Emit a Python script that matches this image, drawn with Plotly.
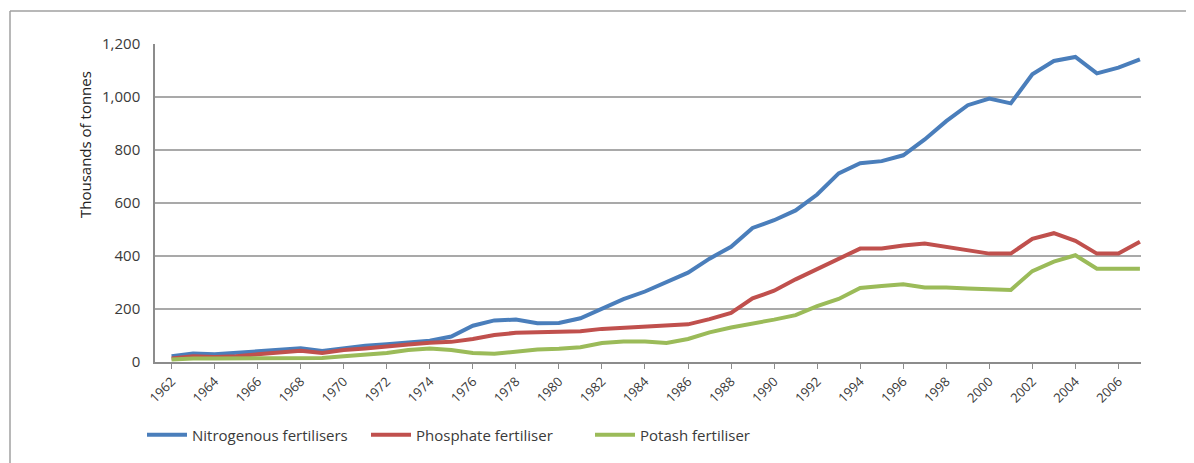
import plotly.graph_objects as go

years = list(range(1962, 2008))

nitrogenous = [22, 32, 29, 34, 42, 47, 52, 42, 53, 61, 67, 73, 80, 96, 137,
               157, 160, 146, 147, 165, 202, 237, 266, 300, 337, 390, 435, 506,
               535, 572, 632, 712, 750, 758, 780, 840, 909, 969, 994, 976,
               1086, 1136, 1151, 1089, 1111, 1142]
phosphate = [13, 22, 19, 22, 29, 34, 42, 34, 45, 51, 57, 66, 73, 76, 87,
             102, 110, 112, 115, 116, 125, 130, 135, 137, 142, 162, 185, 240,
             269, 312, 350, 387, 428, 428, 440, 447, 435, 421, 409, 409,
             465, 486, 457, 409, 409, 454]
potash = [9, 13, 13, 14, 14, 15, 15, 15, 22, 28, 34, 45, 51, 45, 34,
          31, 40, 47, 50, 56, 72, 77, 77, 72, 87, 112, 130, 144, 160, 177,
          211, 238, 279, 287, 293, 281, 281, 277, 274, 272, 343, 379, 403,
          352, 352, 352]

series_names = ["Nitrogenous fertilisers", "Phosphate fertiliser", "Potash fertiliser"]
series_colors = ["#4A7EBB", "#C0504D", "#9BBB59"]
y_tick_vals = [0, 200, 400, 600, 800, 1000, 1200]
y_tick_text = ["0", "200", "400", "600", "800", "1,000", "1,200"]
x_tick_vals = list(range(1962, 2007, 2))
y_title = "Thousands of tonnes"

FONT = "Open Sans"
TXT = "#3a3a3a"

fig = go.Figure()
for name, vals, col in zip(series_names, [nitrogenous, phosphate, potash], series_colors):
    fig.add_trace(go.Scatter(x=years, y=vals, mode="lines", name=name,
                             line=dict(color=col, width=4)))

# page has an 8px body margin, so figure coords = screen coords - 8
OFF = 8
W, H = 1194, 463
L, T = 155 - OFF, 44 - OFF
pw, ph = 986, 318
R = W - L - pw
B = H - T - ph

def px(x):
    return (x - OFF - L) / pw

def py(y):
    return (T + ph - (y - OFF)) / ph

fig.update_layout(
    width=W, height=H,
    margin=dict(l=L, r=R, t=T, b=B),
    paper_bgcolor="white", plot_bgcolor="white",
    font=dict(family=FONT, size=13, color=TXT),
    showlegend=True,
    legend=dict(orientation="h", x=px(142), xanchor="left", y=py(435), yanchor="middle",
                font=dict(family=FONT, size=15, color=TXT), itemwidth=40,
                entrywidth=169, entrywidthmode="pixels",
                bgcolor="rgba(0,0,0,0)"),
    xaxis=dict(range=[1961.23, 2007.05], tickmode="array", tickvals=x_tick_vals,
               ticktext=[str(v) for v in x_tick_vals], tickangle=-45,
               showgrid=False, zeroline=False, showline=True, linecolor="#8c8c8c",
               linewidth=1.5, ticks="outside", ticklen=5, tickcolor="#8c8c8c",
               tickfont=dict(family=FONT, size=13, color=TXT)),
    yaxis=dict(range=[0, 1200], tickmode="array", tickvals=y_tick_vals, ticktext=y_tick_text,
               showgrid=True, gridcolor="#a9a9a9", gridwidth=1.5, zeroline=False,
               showline=True, linecolor="#8c8c8c", linewidth=1.5, ticks="",
               tickfont=dict(family=FONT, size=15, color=TXT), ticklabelstandoff=10),
    annotations=[dict(text=y_title, xref="paper", yref="paper", x=px(85), y=py(145),
                      textangle=-90, showarrow=False, xanchor="center", yanchor="middle",
                      font=dict(family=FONT, size=15, color="#222"))],
    shapes=[
        dict(type="line", xref="paper", yref="paper", x0=px(10), x1=px(1210), y0=py(11), y1=py(11),
             line=dict(color="#a0a0a0", width=1.5)),
        dict(type="line", xref="paper", yref="paper", x0=px(10), x1=px(10), y0=py(11), y1=py(480),
             line=dict(color="#a0a0a0", width=1.5)),
    ],
)

fig.write_html("out.html")
